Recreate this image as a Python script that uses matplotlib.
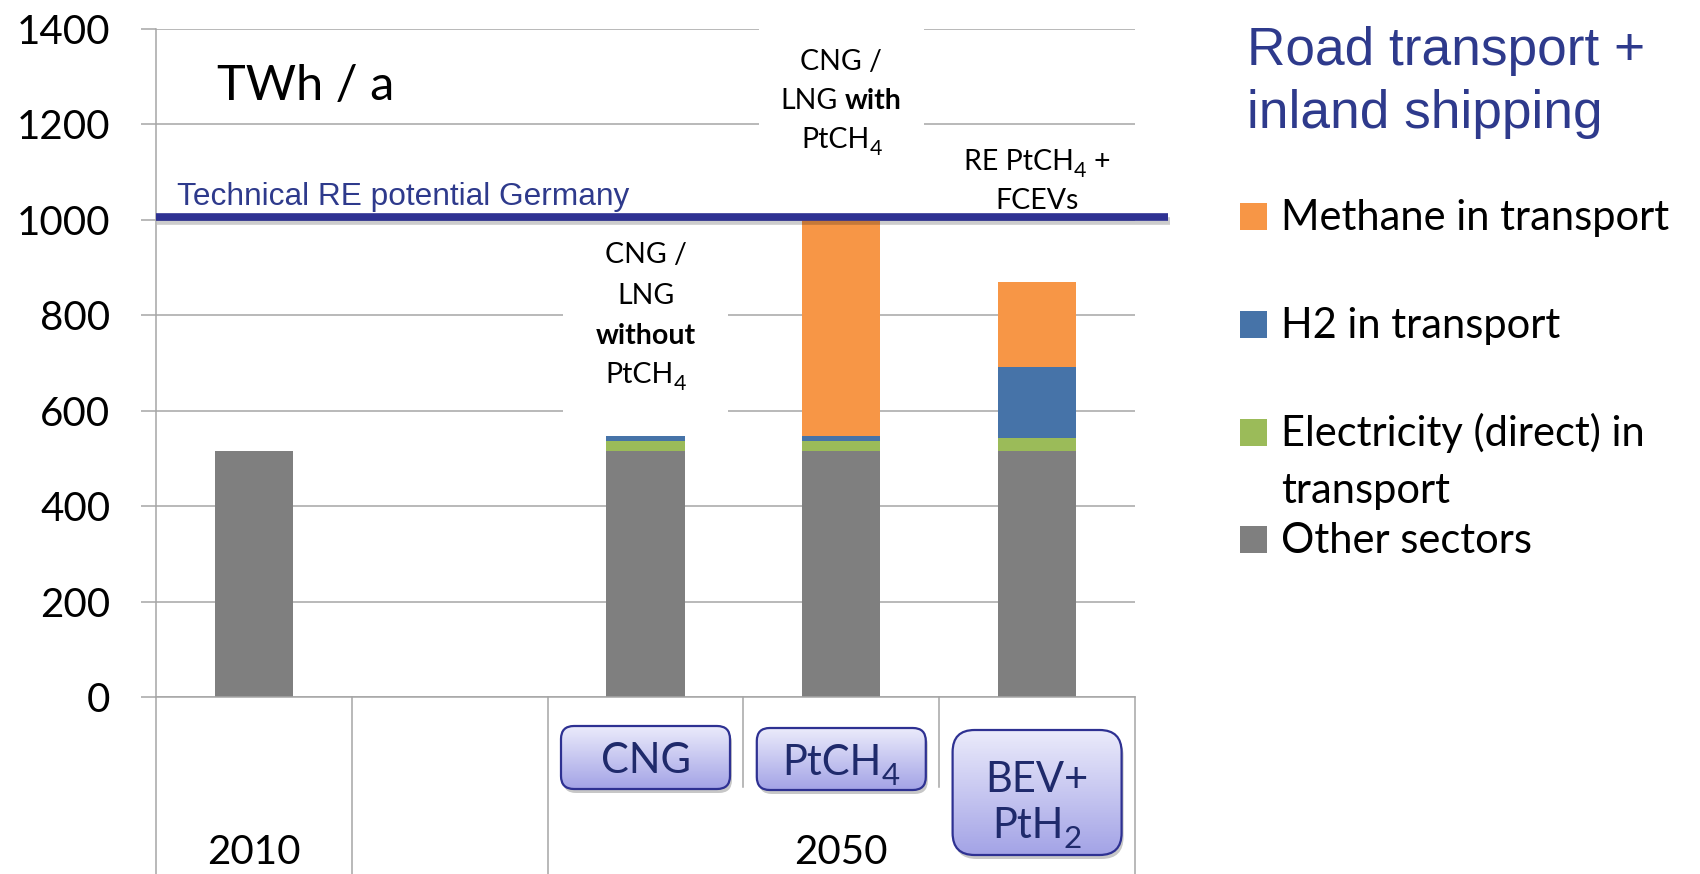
import numpy as np
import matplotlib
matplotlib.use("Agg")
import matplotlib.pyplot as plt
from matplotlib.patches import Rectangle, FancyBboxPatch
from matplotlib.colors import LinearSegmentedColormap
from matplotlib.transforms import blended_transform_factory
import matplotlib.patheffects as pe

plt.rcParams['font.family'] = ['Lato', 'DejaVu Sans']

# final energy demand, TWh/a, stacked bottom -> top
categories = ['2010', '', 'CNG', 'PtCH4', 'BEV+PtH2']
other_sectors = [515, 0, 515, 515, 515]
electricity = [0, 0, 21, 21, 28]
hydrogen = [0, 0, 12, 12, 149]
methane = [0, 0, 0, 452, 178]
re_potential = 1006

series_names = ['Other sectors', 'Electricity (direct) in\ntransport',
                'H2 in transport', 'Methane in transport']
series_colors = ['#7f7f7f', '#9bbb59', '#4673a8', '#f79646']

year_groups = [('2010', [0]), ('2050', [2, 3, 4])]

navy = '#2e3a8c'
grid_c = '#a6a6a6'

W, H = 1700, 874
fig = plt.figure(figsize=(W / 100, H / 100), dpi=100)
ax = fig.add_axes([156 / W, (H - 697) / H, 979 / W, 668 / H])

x = np.arange(len(categories))
bottom = np.zeros(len(categories))
for vals, col in zip([other_sectors, electricity, hydrogen, methane], series_colors):
    ax.bar(x, vals, width=0.4, bottom=bottom, color=col, zorder=2)
    bottom += np.array(vals)

ax.set_xlim(-0.5, len(categories) - 0.5)
ax.set_ylim(0, 1400)
ax.set_yticks(np.arange(0, 1401, 200))
ax.set_xticks([])
ax.yaxis.grid(True, color=grid_c, lw=1.1, zorder=0)
ax.set_axisbelow(True)
for s in ['top', 'right']:
    ax.spines[s].set_visible(False)
for s in ['left', 'bottom']:
    ax.spines[s].set_color(grid_c)
    ax.spines[s].set_linewidth(1.1)
ax.tick_params(axis='y', length=11, width=1.1, color=grid_c, pad=22,
               labelsize=29)

# category separators below the axis (two-level axis)
tb = blended_transform_factory(ax.transData, ax.transAxes)
for xs in [-0.5, 0.5, 1.5, 4.5]:
    ax.plot([xs, xs], [0, -0.27], color=grid_c, lw=1.1, transform=tb, clip_on=False)
for xs in [2.5, 3.5]:
    ax.plot([xs, xs], [0, -0.135], color=grid_c, lw=1.1, transform=tb, clip_on=False)

# white backgrounds behind the scenario notes
for cx, y0, y1 in [(2, 590, 975), (3, 1125, 1420), (4, 1012, 1170)]:
    ax.add_patch(Rectangle((cx - 0.42, y0), 0.84, y1 - y0, fc='white', ec='none',
                           zorder=1, clip_on=False))

ax.text(-0.19, 1251, 'TWh / a', fontsize=35, va='baseline', zorder=3)

# technical renewable potential
ax.plot([-0.5, 4.67], [re_potential, re_potential], color='#2e3192', lw=5.5,
        solid_capstyle='butt', zorder=4, clip_on=False,
        path_effects=[pe.SimpleLineShadow(offset=(1, -3), shadow_color='#000000', alpha=0.2),
                      pe.Normal()])
ax.text(-0.393, 1031, 'Technical RE potential Germany', fontsize=22.8,
        family='Liberation Sans', color=navy, va='baseline', zorder=3)

# overlay in pixel coordinates for notes, badges, group labels and legend
ov = fig.add_axes([0, 0, 1, 1], zorder=5)
ov.set_xlim(0, W)
ov.set_ylim(H, 0)
ov.axis('off')
ov.patch.set_alpha(0)
renderer = fig.canvas.get_renderer()


def cat_px(i):
    return ax.transData.transform((i, 0))[0]


def rich(xc, base, parts, size, color='black', zorder=6):
    """Centred line built from pieces: n = normal, b = bold, s = subscript, g = space."""
    arts = []
    for txt, kind in parts:
        if kind == 'g':
            arts.append((None, 0.24 * size * 100 / 72, 0))
            continue
        fs = size * 0.75 if kind == 's' else size
        t = ov.text(0, 0, txt, fontsize=fs, color=color, va='baseline', ha='left',
                    fontweight='bold' if kind == 'b' else 'normal', zorder=zorder)
        drop = 0.24 * size * 100 / 72 if kind == 's' else 0
        arts.append((t, t.get_window_extent(renderer).width, drop))
    x0 = xc - sum(w for _, w, _ in arts) / 2
    for t, w, drop in arts:
        if t is not None:
            t.set_position((x0, base + drop))
        x0 += w


notes = [
    (2, [(263, [('CNG /', 'n')]), (304, [('LNG', 'n')]), (344, [('without', 'b')]),
         (383, [('PtCH', 'n'), ('4', 's')])]),
    (3, [(70, [('CNG /', 'n')]), (109, [('LNG', 'n'), ('', 'g'), ('with', 'b')]),
         (148, [('PtCH', 'n'), ('4', 's')])]),
    (4, [(170, [('RE PtCH', 'n'), ('4', 's'), ('', 'g'), ('+', 'n')]),
         (209, [('FCEVs', 'n')])]),
]
for i, lines in notes:
    for base, parts in lines:
        rich(cat_px(i), base, parts, 20.5)

badge_cmap = LinearSegmentedColormap.from_list('badge', ['#ebebfb', '#a3a3e6'])
grad = np.linspace(0, 1, 256).reshape(-1, 1)


def badge(i, top, h, r, lines):
    cx = cat_px(i)
    w = 169
    x0 = cx - w / 2
    style = f"round,pad=0,rounding_size={r}"
    ov.add_patch(FancyBboxPatch((x0 + 2, top + 4), w, h, boxstyle=style,
                                fc='black', alpha=0.22, ec='none'))
    box = FancyBboxPatch((x0, top), w, h, boxstyle=style, fc='none',
                         ec='#2e3192', lw=1.6, zorder=3)
    ov.add_patch(box)
    im = ov.imshow(grad, cmap=badge_cmap, extent=(x0, x0 + w, top + h, top),
                   aspect='auto', zorder=2)
    im.set_clip_path(box)
    for base, parts in lines:
        rich(cx, base, parts, 30, color='#1f2a6b')


badge(2, 726, 63, 13, [(773, [('CNG', 'n')])])
badge(3, 728, 62, 13, [(775, [('PtCH', 'n'), ('4', 's')])])
badge(4, 730, 125, 22, [(792, [('BEV+', 'n')]), (838, [('PtH', 'n'), ('2', 's')])])

for name, idx in year_groups:
    ov.text(np.mean([cat_px(i) for i in idx]), 864, name, ha='center',
            va='baseline', fontsize=29)
ov.set_xlim(0, W)
ov.set_ylim(H, 0)

# heading and legend
fig.text(1247 / W, 1 - 65 / H, 'Road transport +', fontsize=38.3,
         family='Liberation Sans', color=navy, va='baseline')
fig.text(1247 / W, 1 - 128 / H, 'inland shipping', fontsize=38.3,
         family='Liberation Sans', color=navy, va='baseline')

legend_base = [553, 446, 338, 230]
for name, col, base in zip(series_names, series_colors, legend_base):
    ov.add_patch(Rectangle((1240, base - 27), 27, 27, fc=col, ec='none'))
    first, *rest = name.split('\n')
    ov.text(1281, base, first, fontsize=30, va='baseline')
    for k, part in enumerate(rest):
        ov.text(1281, base + 57 * (k + 1), part, fontsize=30, va='baseline')

fig.savefig('out.png', dpi=100)
